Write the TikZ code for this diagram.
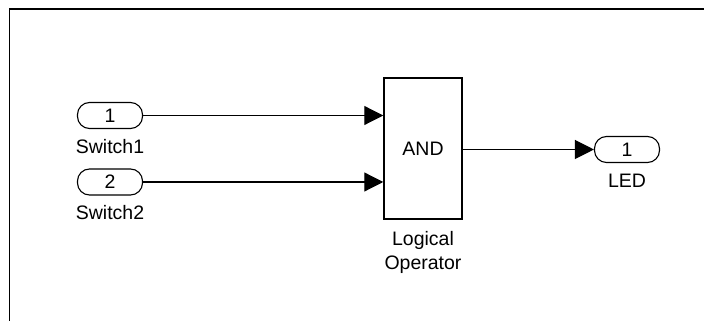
\documentclass[tikz,border=0pt]{standalone}
\usepackage{fontspec}
\setmainfont{Liberation Sans}
\usetikzlibrary{arrows.meta,positioning}

\begin{document}
\begin{tikzpicture}[
  x=1pt,y=1pt,
  font=\fontsize{19.5}{24.5}\selectfont,
  port/.style={draw,line width=1.1pt,rounded corners=12pt,minimum width=65pt,minimum height=26pt,inner sep=0pt},
  block/.style={draw,line width=1.5pt,minimum width=78pt,minimum height=141pt,inner sep=0pt},
  lbl/.style={inner sep=0pt,align=center},
  arrow/.style={-{Triangle[length=19pt,width=19pt]},line width=1.2pt}
]
\useasboundingbox (0,0) rectangle (704,321);
\draw[line width=1.8pt] (9.5,0) -- (9.5,312) -- (704,312);
% inports
\node[port] (in1) at (110,205.5) {1};
\node[lbl,below=10pt of in1] (sw1) {Switch1};
\node[port] (in2) at (110,139) {2};
\node[lbl,below=10pt of in2] (sw2) {Switch2};
% logic block
\node[block] (and) at (423,172.5) {AND};
\node[lbl,below=11pt of and] (logop) {Logical\\Operator};
% outport
\node[port] (out1) at (627,171.5) {1};
\node[lbl,below=11pt of out1] (led) {LED};
\draw[arrow] (in1.east) -- (in1.east -| and.west);
\draw[arrow] (in2.east) -- (in2.east -| and.west);
\draw[arrow] (and.east |- out1.west) -- (out1.west);
\end{tikzpicture}
\end{document}
